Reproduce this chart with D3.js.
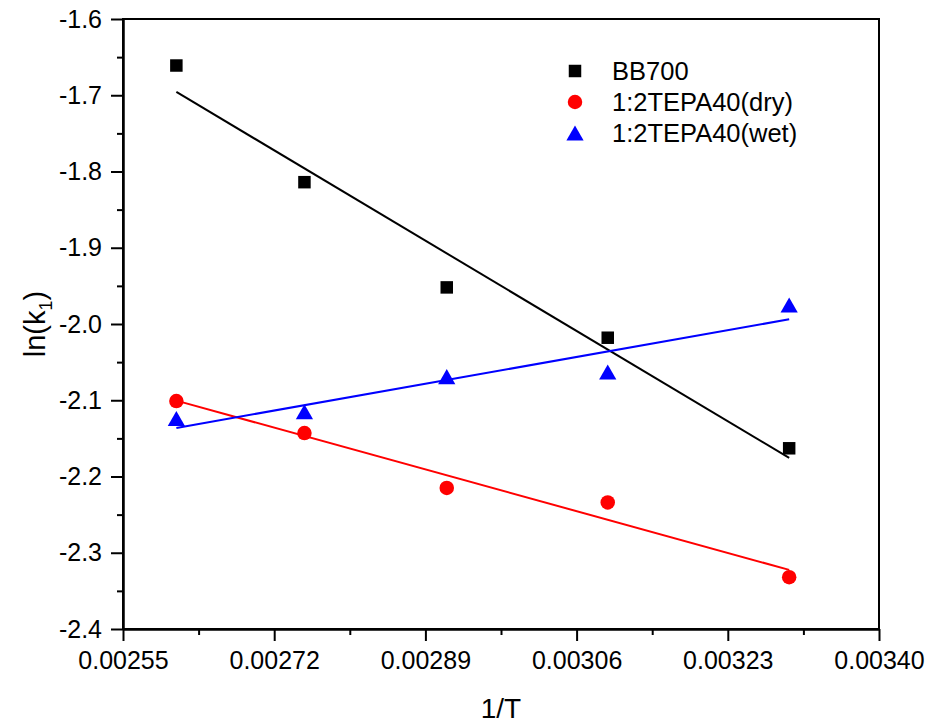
<!DOCTYPE html>
<html>
<head>
<meta charset="utf-8">
<script src="https://cdn.jsdelivr.net/npm/d3@7"></script>
<style>
  body { margin: 0; background: #fff; }
  svg text { font-family: "Liberation Sans", Arial, Helvetica, sans-serif; fill: #000; }
</style>
</head>
<body>
<svg id="chart" width="930" height="724"></svg>
<script>
// Arrhenius data: reciprocal temperature (1/K) against ln(k1)
const invT = [0.002610, 0.002754, 0.002914, 0.003095, 0.003299];
const lnK_BB700 = [-1.661, -1.814, -1.952, -2.018, -2.163];
const lnK_dry   = [-2.101, -2.143, -2.215, -2.234, -2.332];
const lnK_wet   = [-2.124, -2.115, -2.069, -2.063, -1.975];

const seriesNames  = ["BB700", "1:2TEPA40(dry)", "1:2TEPA40(wet)"];
const seriesColors = ["#000000", "#ff0000", "#0000ff"];

const xTicks = [0.00255, 0.00272, 0.00289, 0.00306, 0.00323, 0.00340];
const xTickLabels = ["0.00255", "0.00272", "0.00289", "0.00306", "0.00323", "0.00340"];
const xMinorTicks = [0.002635, 0.002805, 0.002975, 0.003145, 0.003315];
const yTicks = [-1.6, -1.7, -1.8, -1.9, -2.0, -2.1, -2.2, -2.3, -2.4];
const yTickLabels = ["-1.6", "-1.7", "-1.8", "-1.9", "-2.0", "-2.1", "-2.2", "-2.3", "-2.4"];
const yMinorTicks = [-1.65, -1.75, -1.85, -1.95, -2.05, -2.15, -2.25, -2.35];

const svg = d3.select("#chart");
const plotLeft = 123, plotRight = 879, plotTop = 19, plotBottom = 629;

const x = d3.scaleLinear().domain([0.00255, 0.00340]).range([plotLeft, plotRight]);
const y = d3.scaleLinear().domain([-2.4, -1.6]).range([plotBottom, plotTop]);

// frame (top and right edges)
svg.append("rect")
  .attr("x", plotLeft).attr("y", plotTop)
  .attr("width", plotRight - plotLeft).attr("height", plotBottom - plotTop)
  .attr("fill", "none").attr("stroke", "#000").attr("stroke-width", 2);

function styleAxis(g) {
  g.select(".domain").attr("stroke", "#000").attr("stroke-width", 2);
  g.selectAll(".tick line").attr("stroke", "#000").attr("stroke-width", 2);
  g.selectAll(".tick text").style("font-size", "25px").attr("fill", "#000");
}

// x axis: major and minor ticks
svg.append("g").attr("transform", `translate(0,${plotBottom})`)
  .call(d3.axisBottom(x).tickValues(xMinorTicks).tickSize(6).tickSizeOuter(0).tickFormat(""))
  .call(styleAxis);
svg.append("g").attr("transform", `translate(0,${plotBottom})`)
  .call(d3.axisBottom(x).tickValues(xTicks).tickSize(12).tickSizeOuter(0).tickPadding(10)
    .tickFormat((d, i) => xTickLabels[i]))
  .call(styleAxis);

// y axis: major and minor ticks
svg.append("g").attr("transform", `translate(${plotLeft},0)`)
  .call(d3.axisLeft(y).tickValues(yMinorTicks).tickSize(6).tickSizeOuter(0).tickFormat(""))
  .call(styleAxis);
svg.append("g").attr("transform", `translate(${plotLeft},0)`)
  .call(d3.axisLeft(y).tickValues(yTicks).tickSize(12).tickSizeOuter(0).tickPadding(9)
    .tickFormat((d, i) => yTickLabels[i]))
  .call(styleAxis);

// axis titles
svg.append("text")
  .attr("x", (plotLeft + plotRight) / 2).attr("y", 718)
  .attr("text-anchor", "middle").style("font-size", "28px")
  .text("1/T");

const yTitle = svg.append("text")
  .attr("transform", `translate(45,${(plotTop + plotBottom) / 2}) rotate(-90)`)
  .attr("text-anchor", "middle").style("font-size", "29px");
yTitle.append("tspan").text("ln(k");
yTitle.append("tspan").style("font-size", "18px").attr("dy", 7).text("1");
yTitle.append("tspan").attr("dy", -7).text(")");

// upright triangle centred on its bounding box
const triangleBox = {
  draw(ctx, size) {
    const w = Math.sqrt(size * 2 / 0.875);
    const h = w * 0.875;
    ctx.moveTo(0, -h / 2);
    ctx.lineTo(w / 2, h / 2);
    ctx.lineTo(-w / 2, h / 2);
    ctx.closePath();
  }
};
const symbolTypes = [d3.symbolSquare, d3.symbolCircle, triangleBox];
const symbolSizes = [156, 165, 130];

const seriesValues = [lnK_BB700, lnK_dry, lnK_wet];

// least-squares fit lines over the data range
seriesValues.forEach((vals, i) => {
  const mx = d3.mean(invT), my = d3.mean(vals);
  const sxy = d3.sum(invT, (t, j) => (t - mx) * (vals[j] - my));
  const sxx = d3.sum(invT, t => (t - mx) * (t - mx));
  const slope = sxy / sxx, icpt = my - slope * mx;
  const ends = d3.extent(invT).map(t => [t, icpt + slope * t]);
  svg.append("path")
    .datum(ends)
    .attr("d", d3.line().x(d => x(d[0])).y(d => y(d[1])))
    .attr("fill", "none")
    .attr("stroke", seriesColors[i])
    .attr("stroke-width", 2);
});

// data markers
seriesValues.forEach((vals, i) => {
  svg.append("g").selectAll("path")
    .data(vals)
    .join("path")
    .attr("transform", (d, j) => `translate(${x(invT[j])},${y(d)})`)
    .attr("d", d3.symbol().type(symbolTypes[i]).size(symbolSizes[i]))
    .attr("fill", seriesColors[i]);
});

// legend
const legend = svg.append("g").attr("transform", "translate(575,71)");
seriesNames.forEach((name, i) => {
  const row = legend.append("g").attr("transform", `translate(0,${i * 31})`);
  row.append("path")
    .attr("d", d3.symbol().type(symbolTypes[i]).size(symbolSizes[i]))
    .attr("fill", seriesColors[i]);
  row.append("text")
    .attr("x", 37).attr("dy", "0.36em")
    .style("font-size", "25.5px")
    .text(name);
});
</script>
</body>
</html>
